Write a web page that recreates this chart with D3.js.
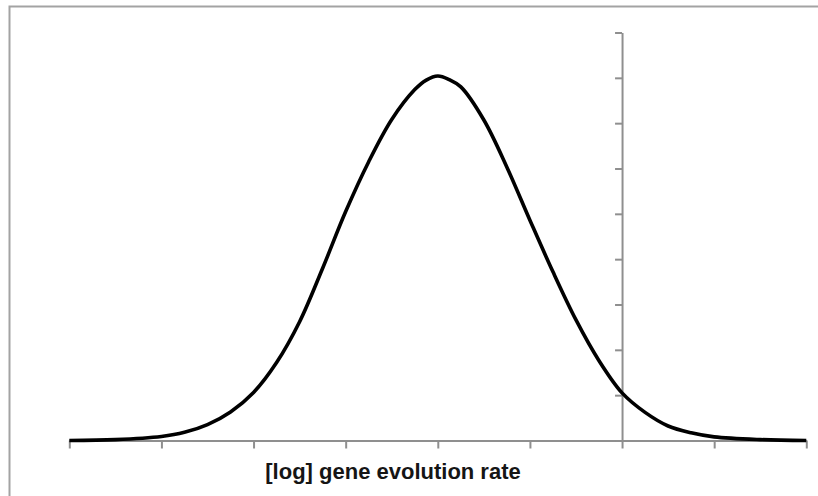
<!DOCTYPE html>
<html>
<head>
<meta charset="utf-8">
<script src="https://cdn.jsdelivr.net/npm/d3@7"></script>
<style>
  body { margin: 0; background: #fff; }
  svg { display: block; }
</style>
</head>
<body>
<svg id="chart"></svg>
<script>
// positions along the x axis, in tick units (0..8), and curve height in y tick units (0..9)
const rates = [0, 0.5, 1, 1.25, 1.5, 1.75, 2, 2.25, 2.5, 2.75, 3, 3.25, 3.5, 3.75, 3.875, 4,
               4.125, 4.25, 4.5, 4.75, 5, 5.25, 5.5, 5.75, 6, 6.25, 6.5, 6.75, 7, 7.5, 8];
const density = [0.0, 0.02, 0.09, 0.18, 0.35, 0.63, 1.06, 1.72, 2.62, 3.8, 5.05, 6.15, 7.08, 7.74, 7.95, 8.04,
                 7.96, 7.8, 7.07, 6.03, 4.86, 3.72, 2.66, 1.76, 1.05, 0.62, 0.32, 0.17, 0.08, 0.02, 0.0];
const xTicks = [0, 1, 2, 3, 4, 5, 6, 7, 8];
const yTicks = [0, 1, 2, 3, 4, 5, 6, 7, 8, 9];
const xLabel = "[log] gene evolution rate";

const width = 818, height = 496;
const svg = d3.select("#chart").attr("width", width).attr("height", height);

const x = d3.scaleLinear().domain([0, 8]).range([69.3, 806.3]);
const y = d3.scaleLinear().domain([0, 9]).range([440.5, 32.5]);

// outer frame (only left and top edges are visible in the picture)
svg.append("path")
    .attr("d", `M9.5,${height + 5}V6.5H${width + 5}`)
    .attr("fill", "none")
    .attr("stroke", "#a3a3a3")
    .attr("stroke-width", 2);

const axisColor = "#8f8f8f";

const xAxis = svg.append("g")
    .attr("transform", `translate(0,${y(0)})`)
    .call(d3.axisBottom(x).tickValues(xTicks).tickFormat("").tickSizeInner(8).tickSizeOuter(0));

const yAxis = svg.append("g")
    .attr("transform", `translate(${x(6)},0)`)
    .call(d3.axisLeft(y).tickValues(yTicks).tickFormat("").tickSizeInner(7).tickSizeOuter(0));

[xAxis, yAxis].forEach(g => {
    g.selectAll("path, line").attr("stroke", axisColor).attr("stroke-width", 2);
});

// the bell curve
const line = d3.line()
    .x((d, i) => x(rates[i]))
    .y(d => y(d))
    .curve(d3.curveCatmullRom.alpha(0.5));

svg.append("path")
    .datum(density)
    .attr("d", line)
    .attr("fill", "none")
    .attr("stroke", "#000")
    .attr("stroke-width", 3.6)
    .attr("stroke-linejoin", "round")
    .attr("stroke-linecap", "butt");

svg.append("text")
    .attr("x", 393)
    .attr("y", 479)
    .attr("text-anchor", "middle")
    .attr("font-family", "'Liberation Sans', Arial, sans-serif")
    .attr("font-weight", "bold")
    .attr("font-size", 22)
    .attr("fill", "#151515")
    .text(xLabel);
</script>
</body>
</html>
